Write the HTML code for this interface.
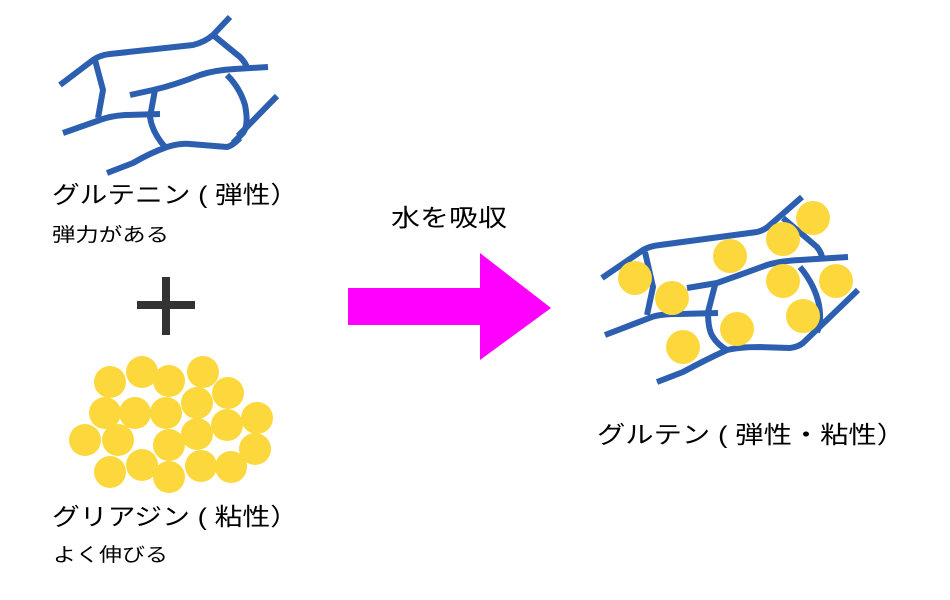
<!DOCTYPE html>
<html><head><meta charset="utf-8"><style>html,body{margin:0;padding:0;background:#fff;}svg{display:block}</style></head>
<body>
<svg width="950" height="600" viewBox="0 0 950 600" xmlns="http://www.w3.org/2000/svg" font-family="'Liberation Sans','Noto Sans CJK JP',sans-serif">
<g fill="none" stroke="#2d5fb0" stroke-width="6" stroke-linecap="butt" stroke-linejoin="round">
<path d="M60,85 L93,60 Q100,55 110,54 L193,45 Q205,42 213,35 L230,17"/>
<path d="M213,35 L240,57 Q246,63 247,68"/>
<path d="M130,95 L153,90 Q175,85 200,75 Q215,70 235,69 L268,67"/>
<path d="M95,60 L103,90 L98,118"/>
<path d="M63,133 L100,120 Q110,116 125,115 L160,114"/>
<path d="M155,90 L150,117 Q152,132 165,147"/>
<path d="M227,75 Q240,88 245,105 Q249,125 243,133 L233,143"/>
<path d="M107,173 L133,163 Q150,153 167,147 Q180,143 190,144 L227,147 Q232,146 240,138"/>
<path d="M238,136 L277,96"/>
</g>
<g fill="#fdd83d">
<circle cx="110" cy="382" r="16"/><circle cx="142" cy="372" r="16"/><circle cx="169" cy="381" r="16"/><circle cx="203" cy="372" r="16"/><circle cx="228" cy="393" r="16"/>
<circle cx="105" cy="413" r="16"/><circle cx="135" cy="413" r="16"/><circle cx="166" cy="413" r="16"/><circle cx="197" cy="403" r="16"/><circle cx="227" cy="425" r="16"/><circle cx="257" cy="418" r="16"/>
<circle cx="85" cy="440" r="16"/><circle cx="118" cy="440" r="16"/><circle cx="169" cy="445" r="16"/><circle cx="197" cy="434" r="16"/><circle cx="255" cy="449" r="16"/>
<circle cx="110" cy="472" r="16"/><circle cx="142" cy="465" r="16"/><circle cx="169" cy="477" r="16"/><circle cx="201" cy="466" r="16"/><circle cx="231" cy="467" r="16"/>
</g>
<rect x="137" y="301" width="58" height="8" fill="#333"/>
<rect x="162" y="277" width="8" height="58" fill="#333"/>
<polygon points="348,288 480,288 480,253 551,308 480,360 480,325 348,325" fill="#ff00ff"/>
<g fill="none" stroke="#2d5fb0" stroke-width="6" stroke-linejoin="round">
<path d="M602,278 L643,250 Q650,246 660,245 L757,232 Q765,230 770,225 L802,197"/>
<path d="M783,218 L817,247 Q821,252 822,257"/>
<path d="M687,288 L717,283 Q740,275 767,265 Q780,261 800,260 L848,257"/>
<path d="M645,252 L653,287 L647,315"/>
<path d="M605,335 L652,317 Q660,314 680,314 L718,313"/>
<path d="M715,285 L708,312 Q708,330 713,337 Q718,345 727,350"/>
<path d="M800,267 Q815,285 819,305 Q822,322 817,332"/>
<path d="M657,382 L683,372 Q705,360 727,350 Q740,347 760,347 L790,348 Q798,347 803,343 L858,290"/>
</g>
<g fill="#fdd83d">
<circle cx="813" cy="218" r="17"/><circle cx="783" cy="239" r="17"/><circle cx="730" cy="256" r="17"/><circle cx="635" cy="278" r="17"/><circle cx="672" cy="298" r="17"/>
<circle cx="783" cy="281" r="17"/><circle cx="836" cy="281" r="17"/><circle cx="803" cy="316" r="17"/><circle cx="737" cy="329" r="17"/><circle cx="683" cy="347" r="17"/>
</g>
<g fill="#000">
<text x="52" y="203" font-size="24" textLength="246" lengthAdjust="spacingAndGlyphs">グルテニン ( 弾性）</text>
<text x="52" y="241" font-size="19" textLength="117" lengthAdjust="spacingAndGlyphs">弾力がある</text>
<text x="391" y="226" font-size="24" textLength="116" lengthAdjust="spacingAndGlyphs">水を吸収</text>
<text x="52" y="525" font-size="24" textLength="246" lengthAdjust="spacingAndGlyphs">グリアジン ( 粘性）</text>
<text x="53" y="561" font-size="19" textLength="115" lengthAdjust="spacingAndGlyphs">よく伸びる</text>
<text x="597" y="443" font-size="24" textLength="308" lengthAdjust="spacingAndGlyphs">グルテン ( 弾性・粘性）</text>
</g>
</svg>
</body></html>
